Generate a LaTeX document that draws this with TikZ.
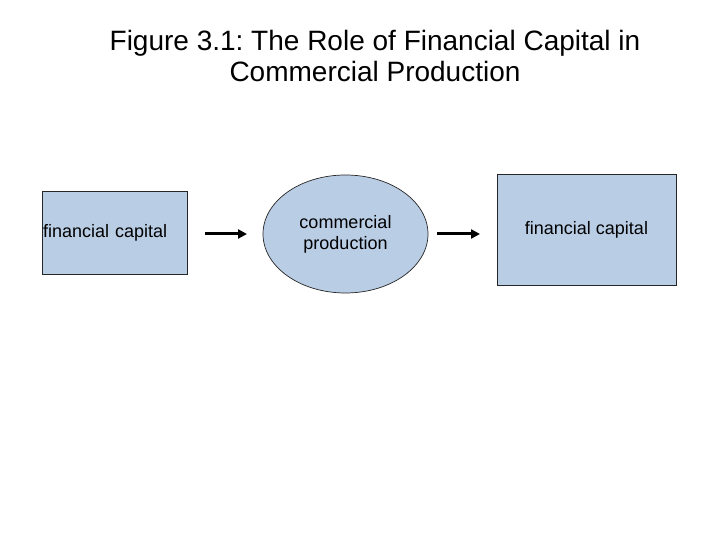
\documentclass[tikz,border=0pt]{standalone}
\usepackage{fontspec}
\setmainfont{Liberation Sans}
\usetikzlibrary{arrows.meta, positioning, shapes.geometric}
\definecolor{boxblue}{RGB}{185,205,229}
\tikzstyle{diagram}=[x=1pt, y=1pt, >={Triangle[length=9pt,width=9pt]}]
\tikzstyle{block}=[draw=black!85, fill=boxblue, line width=0.7pt, outer sep=0pt, font=\fontsize{18}{21}\selectfont]
\tikzstyle{flow}=[->, line width=3pt]

\begin{document}
\frenchspacing
\begin{tikzpicture}[diagram]
  \useasboundingbox (0,0) rectangle (720,540);
  \node[font=\fontsize{28}{31}\selectfont, align=center] (title) at (375,483.5) {Figure 3.1: The Role of Financial Capital in\\Commercial Production};
  \node[block, rectangle, minimum height=83pt, text width=143pt, inner xsep=1pt, align=left] (cap1) at (114.5,307.5) {financial capital};
  \node[block, ellipse, minimum width=165pt, minimum height=118pt, inner sep=0pt, align=center] (prod) at (345.5,306) {commercial\\production};
  \node[block, rectangle, minimum width=179pt, minimum height=111pt] (cap2) at (586.5,310.5) {financial capital};
  \draw[flow, shorten <=18pt, shorten >=16pt] (cap1.east |- prod.west) -- (prod.west);
  \draw[flow, shorten <=9pt, shorten >=17pt] (prod.east) -- (prod.east -| cap2.west);
\end{tikzpicture}
\end{document}
